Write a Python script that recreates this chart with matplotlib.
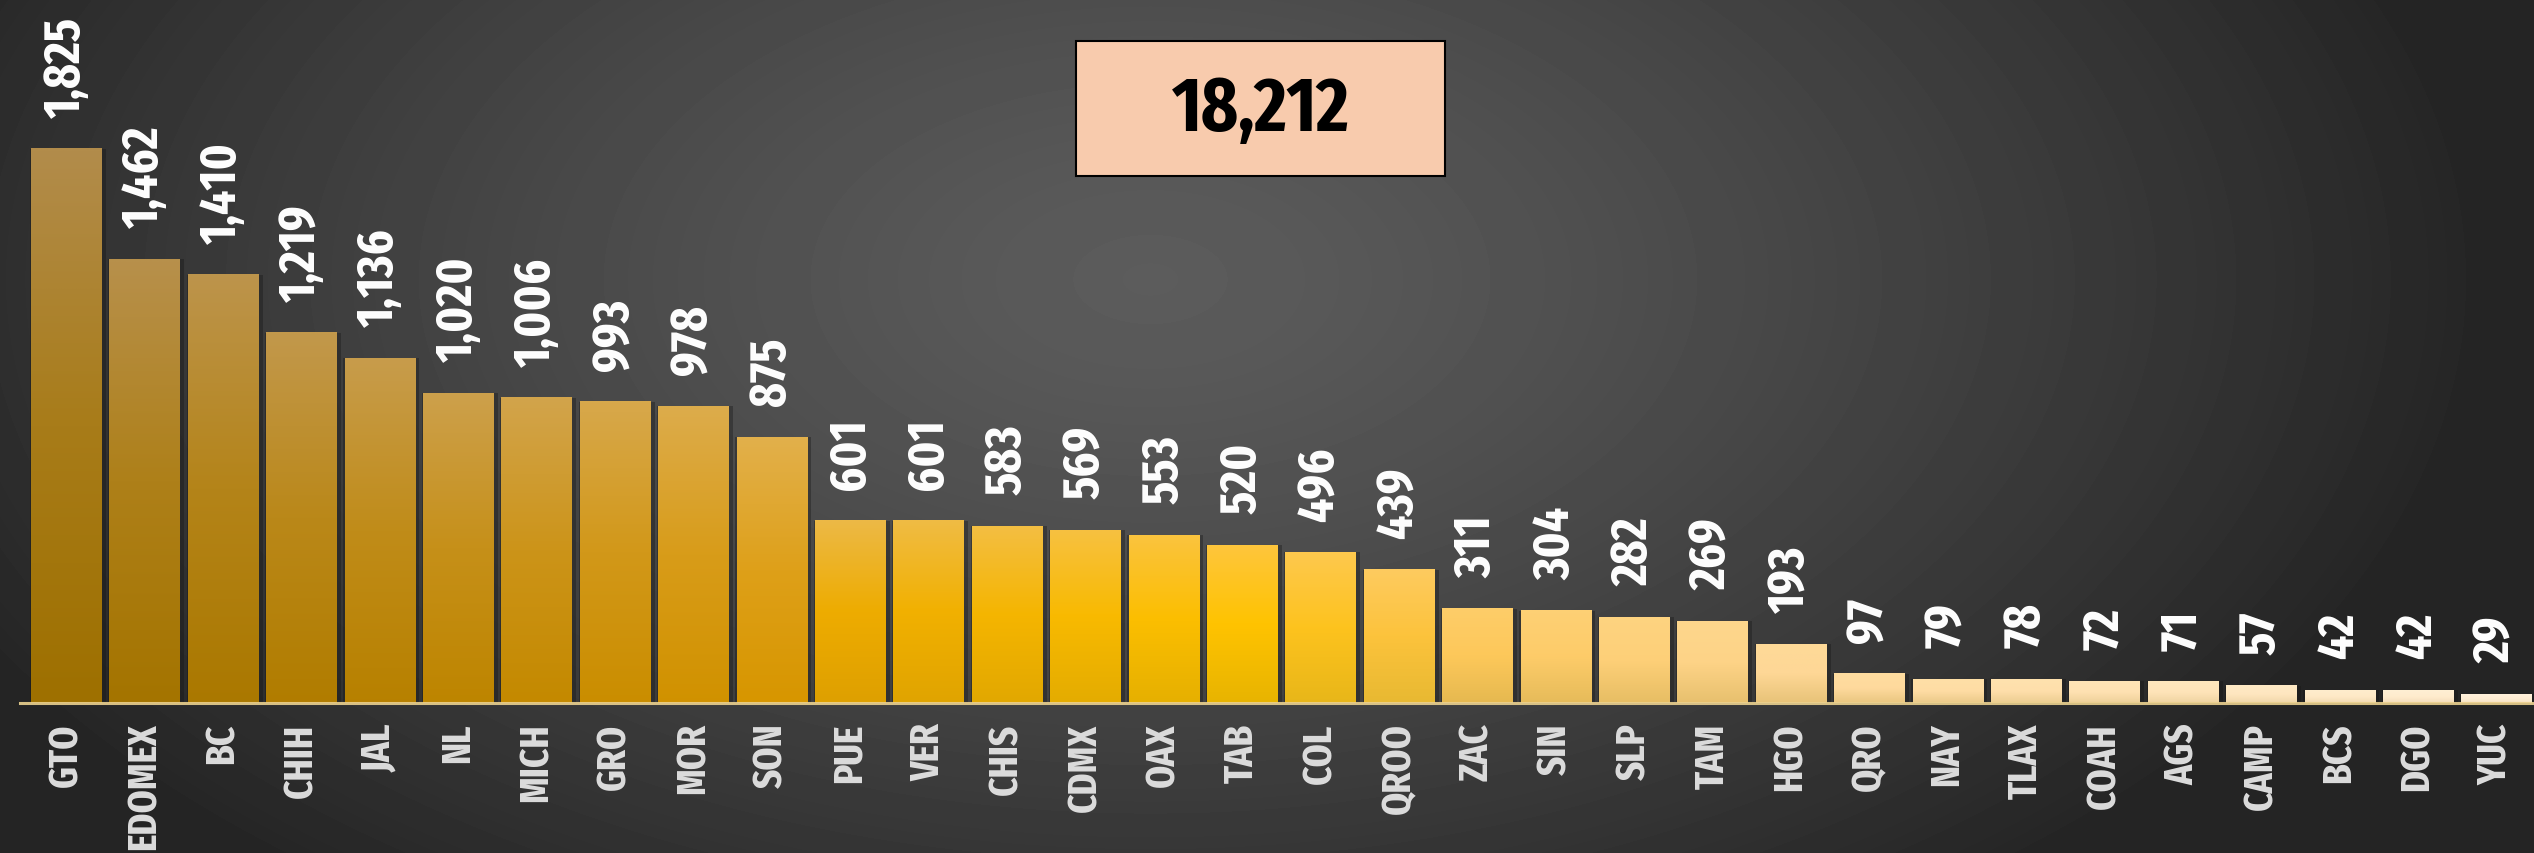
import numpy as np
import matplotlib
matplotlib.use('Agg')
import matplotlib.pyplot as plt
from matplotlib.patches import Rectangle

states = ['GTO', 'EDOMEX', 'BC', 'CHIH', 'JAL', 'NL', 'MICH', 'GRO', 'MOR', 'SON',
          'PUE', 'VER', 'CHIS', 'CDMX', 'OAX', 'TAB', 'COL', 'QROO', 'ZAC', 'SIN',
          'SLP', 'TAM', 'HGO', 'QRO', 'NAY', 'TLAX', 'COAH', 'AGS', 'CAMP', 'BCS',
          'DGO', 'YUC']
cases = [1825, 1462, 1410, 1219, 1136, 1020, 1006, 993, 978, 875,
         601, 601, 583, 569, 553, 520, 496, 439, 311, 304,
         282, 269, 193, 97, 79, 78, 72, 71, 57, 42,
         42, 29]
total = sum(cases)

# colour stops by bar index: bottom / middle / top of each bar
stop_idx = [0, 9, 10, 15, 17, 18, 22, 31]
stop_bottom = [(158, 112, 0), (215, 150, 0), (222, 160, 0), (232, 180, 0),
               (232, 185, 50), (230, 185, 80), (232, 195, 120), (245, 225, 195)]
stop_mid = [(168, 124, 25), (222, 160, 25), (238, 172, 0), (255, 195, 0),
            (252, 195, 60), (253, 200, 90), (254, 215, 150), (255, 238, 212)]
stop_top = [(178, 140, 75), (226, 176, 75), (236, 185, 70), (254, 198, 60),
            (254, 203, 95), (254, 205, 105), (254, 218, 152), (255, 242, 220)]

fam = ['Fira Sans Extra Condensed', 'DejaVu Sans']


def interp_col(stops, i):
    arr = np.array(stops, dtype=float)
    return np.array([np.interp(i, stop_idx, arr[:, c]) for c in range(3)]) / 255


fig = plt.figure(figsize=(25.34, 8.54), dpi=100)

# radial background
bg = fig.add_axes([0, 0, 1, 1])
bg.axis('off')
yy, xx = np.mgrid[0:854, 0:2534]
d = np.sqrt(((xx - 1150) / 1350.0) ** 2 + ((yy - 280) / 780.0) ** 2)
v = 92 - 56 * np.clip(d, 0, 1) ** 1.3
bg.imshow(v, cmap='gray', vmin=0, vmax=255, aspect='auto')

ax = fig.add_axes([0, 0.1756, 1, 0.8244])
ax.patch.set_alpha(0)
ax.axis('off')

x = np.arange(len(states))
ax.bar(x + 0.02, cases, width=0.97, color=(0.08, 0.08, 0.08), alpha=0.35, zorder=1)
bars = ax.bar(x, cases, width=0.9, color='none', zorder=2)

t = np.linspace(0, 1, 80)[:, None]
for i, b in enumerate(bars):
    cb = interp_col(stop_bottom, i)
    cm = interp_col(stop_mid, i)
    ct = interp_col(stop_top, i)
    lo = cb + (cm - cb) * np.clip(t / 0.5, 0, 1)
    hi = cm + (ct - cm) * np.clip((t - 0.5) / 0.5, 0, 1)
    grad = np.where(t < 0.5, lo, hi)[:, None, :]
    ax.imshow(grad, extent=[b.get_x(), b.get_x() + b.get_width(), 0, b.get_height()],
              origin='lower', aspect='auto', interpolation='bilinear', zorder=2)

ax.set_xlim(-0.845, 31.477)
ax.set_ylim(0, 2319)

ax.plot([-0.59, 31.477], [0, 0], color=(0.92, 0.82, 0.56), lw=2.2, zorder=3,
        clip_on=False, alpha=0.9)

for i, val in enumerate(cases):
    ax.annotate(f'{val:,}', (i, val), xytext=(0, 23), textcoords='offset points',
                rotation=90, ha='center', va='bottom', color='white',
                fontsize=37, fontweight='bold', family=fam, annotation_clip=False)
    ax.annotate(states[i], (i, 0), xytext=(0, -14), textcoords='offset points',
                rotation=90, ha='center', va='top', color='#dcdcdc',
                fontsize=29, fontweight='bold', family=fam, annotation_clip=False)

# total box
fig.patches.append(Rectangle((1076 / 2534, (854 - 177) / 854), 369 / 2534, 135 / 854,
                             transform=fig.transFigure, facecolor='#F8CBAD',
                             edgecolor='black', lw=1.5, zorder=5))
fig.text(1260.5 / 2534, 1 - 110 / 854, f'{total:,}', ha='center', va='center',
         fontsize=55, fontweight='bold', color='black', family=fam, zorder=6)

fig.savefig('out.png', dpi=100)
